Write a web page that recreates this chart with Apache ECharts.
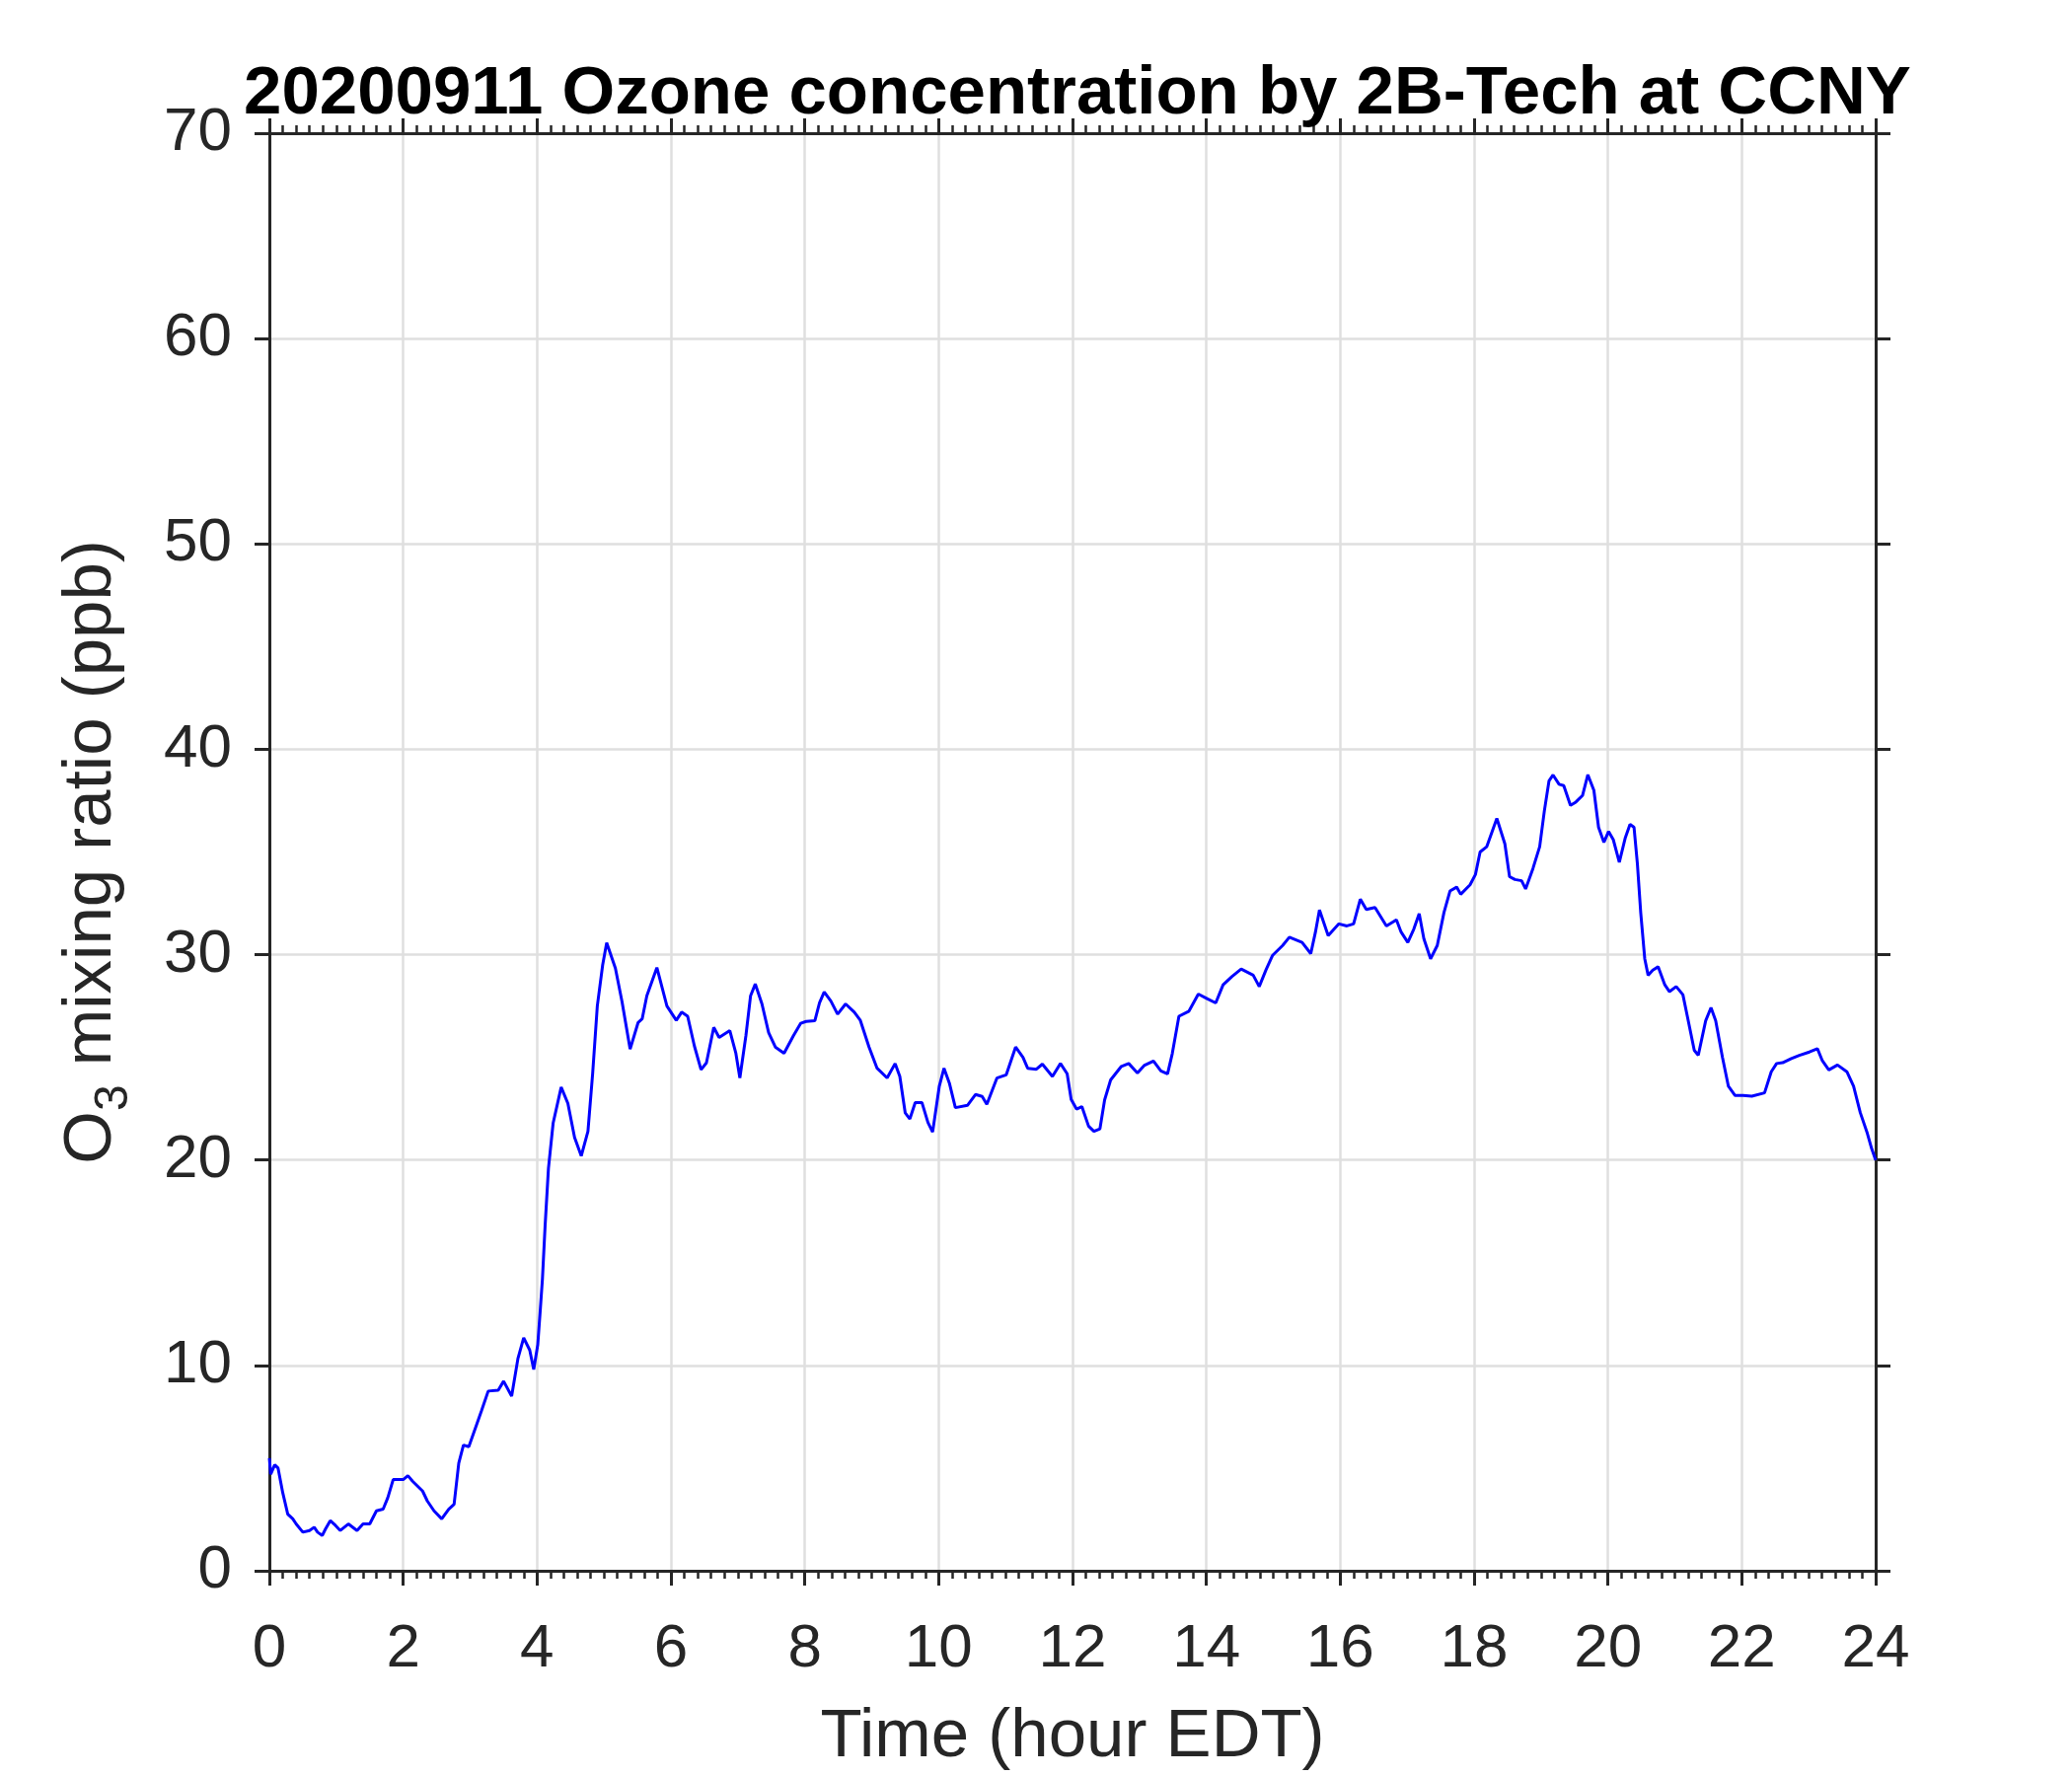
<!DOCTYPE html>
<html>
<head>
<meta charset="utf-8">
<script src="https://cdn.jsdelivr.net/npm/echarts@6/dist/echarts.min.js"></script>
<style>
  html, body { margin: 0; padding: 0; background: #ffffff; }
  #chart { width: 2100px; height: 1800px; }
</style>
</head>
<body>
<div id="chart"></div>
<script>
// ---- data (hour EDT, O3 ppb) ----
const hours = [0, 0.02, 0.08, 0.13, 0.2, 0.275, 0.35, 0.4, 0.5, 0.6, 0.67, 0.72, 0.79, 0.84, 0.91, 0.99, 1.06, 1.18, 1.31, 1.4, 1.5, 1.6, 1.7, 1.77, 1.85, 2.0, 2.07, 2.14, 2.29, 2.36, 2.46, 2.575, 2.68, 2.76, 2.83, 2.9, 2.98, 3.1, 3.17, 3.27, 3.42, 3.5, 3.62, 3.715, 3.8, 3.89, 3.95, 4.01, 4.05, 4.08, 4.12, 4.17, 4.24, 4.36, 4.46, 4.56, 4.66, 4.76, 4.83, 4.9, 4.98, 5.04, 5.17, 5.27, 5.39, 5.51, 5.57, 5.64, 5.79, 5.94, 6.08, 6.16, 6.25, 6.35, 6.45, 6.53, 6.64, 6.72, 6.88, 6.97, 7.03, 7.12, 7.19, 7.26, 7.36, 7.46, 7.56, 7.69, 7.83, 7.94, 8.02, 8.15, 8.22, 8.29, 8.39, 8.49, 8.61, 8.74, 8.83, 8.96, 9.08, 9.23, 9.35, 9.42, 9.5, 9.57, 9.65, 9.75, 9.84, 9.91, 10.01, 10.08, 10.16, 10.25, 10.43, 10.55, 10.65, 10.72, 10.87, 11.01, 11.15, 11.26, 11.33, 11.46, 11.55, 11.7, 11.82, 11.92, 11.98, 12.06, 12.14, 12.24, 12.32, 12.41, 12.48, 12.57, 12.73, 12.84, 12.97, 13.07, 13.21, 13.32, 13.42, 13.49, 13.59, 13.74, 13.88, 14.01, 14.14, 14.25, 14.38, 14.52, 14.7, 14.79, 14.89, 14.99, 15.14, 15.24, 15.43, 15.56, 15.63, 15.69, 15.82, 15.98, 16.1, 16.2, 16.3, 16.39, 16.52, 16.69, 16.84, 16.91, 17.01, 17.1, 17.18, 17.25, 17.35, 17.45, 17.55, 17.64, 17.74, 17.8, 17.94, 18.02, 18.09, 18.19, 18.34, 18.46, 18.53, 18.61, 18.71, 18.77, 18.88, 18.98, 19.05, 19.12, 19.18, 19.27, 19.34, 19.44, 19.52, 19.62, 19.7, 19.79, 19.86, 19.94, 20.01, 20.08, 20.17, 20.26, 20.33, 20.39, 20.44, 20.49, 20.55, 20.6, 20.67, 20.75, 20.85, 20.92, 21.02, 21.12, 21.19, 21.29, 21.35, 21.46, 21.54, 21.61, 21.71, 21.8, 21.9, 22.02, 22.15, 22.34, 22.44, 22.52, 22.61, 22.74, 22.86, 23.01, 23.13, 23.2, 23.3, 23.43, 23.57, 23.67, 23.77, 23.87, 23.94, 24.0];

const ozone = [5.48, 4.7, 5.16, 5.0, 3.8, 2.76, 2.53, 2.28, 1.88, 1.96, 2.12, 1.88, 1.72, 2.04, 2.44, 2.2, 1.96, 2.28, 1.96, 2.28, 2.28, 2.92, 3.0, 3.56, 4.44, 4.44, 4.63, 4.36, 3.88, 3.4, 2.92, 2.53, 3.0, 3.24, 5.24, 6.12, 6.04, 7.15, 7.79, 8.75, 8.79, 9.23, 8.5, 10.35, 11.34, 10.75, 9.8, 11.0, 12.8, 14.2, 16.8, 19.6, 21.8, 23.55, 22.76, 21.1, 20.2, 21.4, 24.2, 27.5, 29.5, 30.58, 29.34, 27.7, 25.4, 26.7, 26.87, 28.0, 29.37, 27.5, 26.8, 27.2, 27.0, 25.56, 24.4, 24.73, 26.46, 25.97, 26.3, 25.2, 24.0, 26.05, 28.0, 28.57, 27.6, 26.2, 25.5, 25.2, 26.05, 26.66, 26.75, 26.78, 27.66, 28.18, 27.74, 27.1, 27.6, 27.2, 26.8, 25.5, 24.47, 24.0, 24.7, 24.07, 22.3, 22.0, 22.8, 22.8, 21.83, 21.36, 23.6, 24.47, 23.75, 22.55, 22.66, 23.19, 23.1, 22.71, 23.99, 24.15, 25.5, 25.0, 24.47, 24.42, 24.67, 24.07, 24.7, 24.2, 22.95, 22.48, 22.6, 21.65, 21.4, 21.52, 22.93, 23.9, 24.56, 24.7, 24.24, 24.6, 24.82, 24.34, 24.2, 25.17, 27.0, 27.25, 28.08, 27.86, 27.65, 28.53, 28.93, 29.3, 29.0, 28.45, 29.25, 29.97, 30.45, 30.85, 30.6, 30.05, 31.1, 32.18, 30.93, 31.5, 31.4, 31.5, 32.7, 32.2, 32.3, 31.4, 31.7, 31.1, 30.6, 31.25, 32.0, 30.77, 29.8, 30.45, 32.05, 33.1, 33.29, 32.94, 33.4, 33.9, 35.0, 35.26, 36.63, 35.4, 33.8, 33.66, 33.6, 33.2, 34.2, 35.26, 37.0, 38.47, 38.75, 38.3, 38.23, 37.27, 37.43, 37.75, 38.76, 38.0, 36.2, 35.47, 36.0, 35.6, 34.5, 35.7, 36.35, 36.2, 34.43, 32.04, 29.8, 29.0, 29.25, 29.41, 28.53, 28.2, 28.45, 28.05, 26.94, 25.34, 25.1, 26.78, 27.42, 26.78, 25.02, 23.59, 23.14, 23.14, 23.11, 23.27, 24.3, 24.7, 24.74, 24.94, 25.1, 25.26, 25.42, 24.86, 24.39, 24.63, 24.3, 23.59, 22.31, 21.36, 20.56, 20.0];

const xTicks = [0, 2, 4, 6, 8, 10, 12, 14, 16, 18, 20, 22, 24];
const yTicks = [0, 10, 20, 30, 40, 50, 60, 70];

const titleText = '20200911 Ozone concentration by 2B-Tech at CCNY';
const xName = 'Time (hour EDT)';

// ---- chart ----
const axisColor = '#262626';
const gridColor = '#dfdfdf';
const font = 'Liberation Sans, Arial, Helvetica, sans-serif';

const seriesData = hours.map((h, i) => [h, ozone[i]]);

function xAxisBase(pos, showLabels) {
  return {
    type: 'value',
    position: pos,
    min: xTicks[0],
    max: xTicks[xTicks.length - 1],
    interval: xTicks[1] - xTicks[0],
    axisLine: { show: true, onZero: false, lineStyle: { color: axisColor, width: 3 } },
    axisTick: { show: true, inside: false, length: 15, lineStyle: { color: axisColor, width: 3 } },
    minorTick: { show: true, splitNumber: 10, length: 8, lineStyle: { color: axisColor, width: 2.5 } },
    splitLine: { show: showLabels, lineStyle: { color: gridColor, width: 2.5 } },
    axisLabel: { show: showLabels, color: axisColor, fontSize: 62, fontFamily: font, margin: 49 },
  };
}
function yAxisBase(pos, showLabels) {
  return {
    type: 'value',
    position: pos,
    min: yTicks[0],
    max: yTicks[yTicks.length - 1],
    interval: yTicks[1] - yTicks[0],
    axisLine: { show: true, onZero: false, lineStyle: { color: axisColor, width: 3 } },
    axisTick: { show: true, inside: false, length: 15, lineStyle: { color: axisColor, width: 3 } },
    splitLine: { show: showLabels, lineStyle: { color: gridColor, width: 2.5 } },
    axisLabel: { show: showLabels, color: axisColor, fontSize: 62, fontFamily: font, margin: 38 },
  };
}

const chart = echarts.init(document.getElementById('chart'), null, { renderer: 'canvas' });

const xBottom = xAxisBase('bottom', true);
xBottom.name = xName;
xBottom.nameLocation = 'middle';
xBottom.nameGap = 134;
xBottom.nameTextStyle = { color: axisColor, fontSize: 69, fontFamily: font };

const yLeft = yAxisBase('left', true);
yLeft.name = '{o|O}{sub|3}{o| mixing ratio (ppb)}';
yLeft.nameLocation = 'middle';
yLeft.nameRotate = 90;
yLeft.nameGap = 133;
yLeft.nameTextStyle = {
  color: axisColor, fontSize: 69, fontFamily: font,
  rich: {
    o: { color: axisColor, fontSize: 69, fontFamily: font },
    sub: { color: axisColor, fontSize: 48, fontFamily: font, padding: [46, 0, 0, 0] }
  }
};

chart.setOption({
  animation: false,
  backgroundColor: '#ffffff',
  title: {
    text: titleText,
    left: 1087,
    top: 56,
    textAlign: 'center',
    textStyle: { color: '#000000', fontSize: 69, fontWeight: 'bold', fontFamily: font }
  },
  grid: { left: 273, right: 199, top: 135, bottom: 204, containLabel: false },
  xAxis: [xBottom, xAxisBase('top', false)],
  yAxis: [yLeft, yAxisBase('right', false)],
  series: [{
    type: 'line',
    xAxisIndex: 0,
    yAxisIndex: 0,
    data: seriesData,
    showSymbol: false,
    symbol: 'none',
    smooth: false,
    lineStyle: { color: '#0000ff', width: 3 },
    z: 5
  }]
});
</script>
</body>
</html>
